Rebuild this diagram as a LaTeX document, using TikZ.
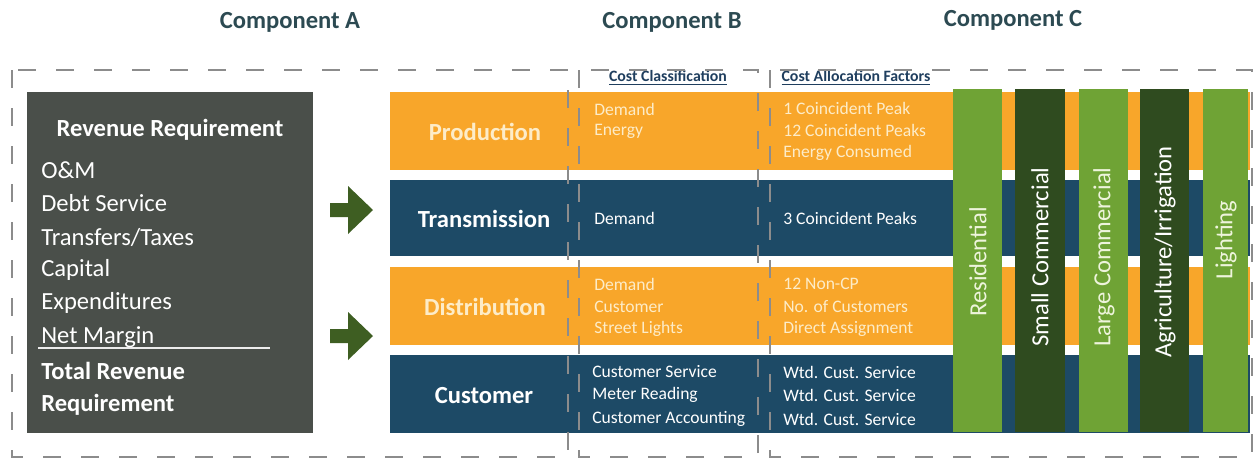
\documentclass[tikz,border=0pt]{standalone}
\usepackage{fontspec}
\setmainfont{Carlito}
\usepackage{xcolor}
\usetikzlibrary{positioning}
\definecolor{bandorange}{HTML}{F8A62A}
\definecolor{bandblue}{HTML}{1D4A66}
\definecolor{colgreen}{HTML}{6FA335}
\definecolor{coldark}{HTML}{2F4B1F}
\definecolor{boxgray}{HTML}{4A4F4A}
\definecolor{arrowgreen}{HTML}{3E5E22}
\definecolor{titleteal}{HTML}{2C4A52}
\definecolor{headblue}{HTML}{1F3E5E}
\definecolor{creamtext}{HTML}{FDECC8}
\definecolor{palegreen}{HTML}{EEF4DC}
\definecolor{framegray}{HTML}{8C8C8C}

\begin{document}
\begin{tikzpicture}[x=0.2mm,y=-0.2mm,
    comptitle/.style={font=\fontsize{14}{16}\selectfont\bfseries, text=titleteal},
    bandlabel/.style={font=\fontsize{14}{16}\selectfont\bfseries},
    boxline/.style={anchor=west, inner sep=0pt, text=white, font=\fontsize{14}{16}\selectfont},
    smalltext/.style={anchor=west, inner sep=0pt, font=\fontsize{10}{12}\selectfont},
    colheader/.style={font=\fontsize{9}{11}\selectfont\bfseries, text=headblue},
    collabel/.style={rotate=90, font=\fontsize{14}{16}\selectfont},
    frame/.style={draw=framegray, line width=0.5mm, dash pattern=on 3.6mm off 4mm}]
    \useasboundingbox (0,0) rectangle (1257,462);
    \node[comptitle] (compA) at (290,22) {Component A};
    \node[comptitle] (compB) at (672,22) {Component B};
    \node[comptitle] (compC) at (1013,20) {Component C};
    \fill[boxgray] (27,92) rectangle (313,433);
    \node[boxline, anchor=center, font=\fontsize{14}{16}\selectfont\bfseries] (revreq) at (170,130) {Revenue Requirement};
    \node[boxline] (om) at (41,170) {O\&M};
    \node[boxline] (debt) at (41,203) {Debt Service};
    \node[boxline] (transfers) at (41,237) {Transfers/Taxes};
    \node[boxline] (capital) at (41,270) {Capital};
    \node[boxline] (expend) at (41,303) {Expenditures};
    \node[boxline] (netmargin) at (41,337) {Net Margin};
    \draw[white!85!gray, line width=0.3mm] (38,348) -- (270,348);
    \node[boxline, font=\fontsize{14}{16}\selectfont\bfseries] (total) at (41,371) {Total Revenue};
    \node[boxline, font=\fontsize{14}{16}\selectfont\bfseries] (totalreq) at (41,405) {Requirement};
    \fill[arrowgreen] (330,203) -- (348,203) -- (348,186) -- (373,210) -- (348,234) -- (348,217) -- (330,217) -- cycle;
    \fill[arrowgreen] (330,329) -- (348,329) -- (348,312) -- (373,336) -- (348,360) -- (348,343) -- (330,343) -- cycle;
    \fill[bandorange] (390,92) rectangle (1250,170);
    \fill[bandblue] (390,180) rectangle (1250,256);
    \fill[bandorange] (390,267) rectangle (1250,345);
    \fill[bandblue] (390,355) rectangle (1250,433);
    \node[bandlabel, text=creamtext] (production) at (485,132) {Production};
    \node[bandlabel, text=white] (transmission) at (484,219) {Transmission};
    \node[bandlabel, text=creamtext] (distribution) at (485,307) {Distribution};
    \node[bandlabel, text=white] (customer) at (484,396) {Customer};
    \node[colheader] (costclass) at (668,78) {\underline{Cost Classification}};
    \node[colheader] (costalloc) at (856,78) {\underline{Cost Allocation Factors}};
    \node[smalltext, text=creamtext] at (594,109) {Demand};
    \node[smalltext, text=creamtext] at (594,131) {Energy};
    \node[smalltext, text=creamtext] at (783,108) {1 Coincident Peak};
    \node[smalltext, text=creamtext] at (783,130) {12 Coincident Peaks};
    \node[smalltext, text=creamtext] at (783,153) {Energy Consumed};
    \node[smalltext, text=white] at (594,218) {Demand};
    \node[smalltext, text=white] at (783,218) {3 Coincident Peaks};
    \node[smalltext, text=creamtext] at (594,284) {Demand};
    \node[smalltext, text=creamtext] at (594,307) {Customer};
    \node[smalltext, text=creamtext] at (594,329) {Street Lights};
    \node[smalltext, text=creamtext] at (783,284) {12 Non-CP};
    \node[smalltext, text=creamtext] at (783,307) {No. of Customers};
    \node[smalltext, text=creamtext] at (783,329) {Direct Assignment};
    \node[smalltext, text=white] at (592,372) {Customer Service};
    \node[smalltext, text=white] at (592,395) {Meter Reading};
    \node[smalltext, text=white] at (592,419) {Customer Accounting};
    \foreach \y in {372,395,419}
        \node[smalltext, text=white] at (783,\y) {Wtd. Cust. Service};
    \fill[colgreen] (953,89) rectangle (1002,432);
    \fill[coldark] (1015,89) rectangle (1065,432);
    \fill[colgreen] (1079,89) rectangle (1128,432);
    \fill[coldark] (1140,89) rectangle (1189,432);
    \fill[colgreen] (1203,89) rectangle (1248,432);
    \node[collabel, text=palegreen] (residential) at (978,262) {Residential};
    \node[collabel, text=white] (smallcom) at (1040,257) {Small Commercial};
    \node[collabel, text=palegreen] (largecom) at (1104,257) {Large Commercial};
    \node[collabel, text=white] (agri) at (1165,252) {Agriculture/Irrigation};
    \node[collabel, text=palegreen] (lighting) at (1226,240) {Lighting};
    \draw[frame] (12,70) rectangle (568,457);
    \draw[frame] (579,70) rectangle (758,457);
    \draw[frame] (770,70) rectangle (1252,457);
\end{tikzpicture}
\end{document}
